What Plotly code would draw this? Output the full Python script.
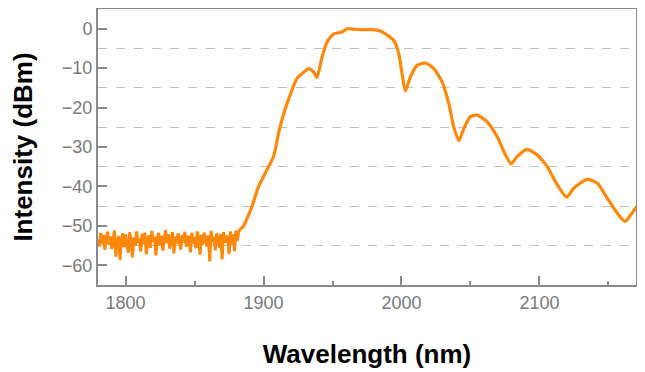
import plotly.graph_objects as go

# Noise floor region (nm, dBm)
noise_wl = list(range(1780, 1885))
noise_db = [-53.5,-55.2,-51.8,-54.6,-52.3,-56.1,-53.0,-51.5,-54.8,-52.7,
            -55.9,-53.4,-51.2,-57.8,-54.1,-52.6,-58.6,-53.8,-51.9,-55.4,
            -52.2,-54.9,-56.8,-51.6,-53.7,-58.0,-52.9,-55.1,-51.4,-54.3,
            -53.2,-56.5,-52.0,-54.7,-51.7,-57.2,-53.6,-52.4,-55.6,-51.3,
            -54.0,-52.8,-57.5,-53.1,-51.8,-55.0,-52.5,-56.3,-53.9,-51.1,
            -54.4,-52.1,-55.8,-53.3,-51.6,-57.0,-52.7,-54.6,-51.9,-53.8,
            -56.0,-52.3,-54.2,-51.5,-55.3,-53.0,-52.6,-56.7,-51.8,-54.5,
            -52.9,-55.7,-51.4,-53.5,-57.3,-52.2,-54.8,-51.7,-53.9,-55.2,
            -52.4,-59.0,-51.3,-54.1,-52.8,-56.2,-51.9,-53.6,-55.5,-52.0,
            -58.5,-51.6,-54.3,-52.5,-53.2,-57.1,-51.4,-54.7,-52.1,-56.4,
            -51.2,-53.8,-51.5,-50.9,-50.6]

# Spectrum above the noise floor
spec_wl = [1884, 1885.4, 1888.5, 1891.6, 1896.4, 1900, 1903.6, 1907.3, 1910.9, 1913.3,
           1917, 1920.6, 1924.2, 1927.8, 1932.7, 1936.3, 1938.7, 1942.4, 1946,
           1950.8, 1956.9, 1960.5, 1969, 1978.6, 1981, 1984.7, 1988.3, 1994.4,
           1998, 2000.4, 2002.8, 2006.5, 2011.3, 2017.4, 2023.4, 2029.5, 2034.3,
           2037.9, 2041.6, 2045.2, 2050, 2054.9, 2062.1, 2069.4, 2075.4, 2079.5,
           2083.9, 2091.1, 2098.4, 2105.6, 2112.9, 2119.7, 2125, 2134.7, 2142,
           2149.2, 2156.5, 2162, 2166.2, 2170.5]
spec_db = [-50.6, -50.1, -47.8, -45.1, -40.0, -37.5, -35.0, -32.4, -26.5, -23.2,
           -19.0, -15.6, -12.6, -11.4, -10.1, -11.0, -12.4, -7.2, -3.4,
           -1.3, -0.85, 0.0, -0.25, -0.25, -0.3, -0.6, -1.3, -3.0,
           -6.3, -11.4, -15.8, -12.2, -9.3, -8.7, -10.1, -13.5, -19.0,
           -24.9, -28.4, -25.3, -22.3, -21.9, -23.6, -27.4, -32.0, -34.3,
           -32.4, -30.6, -32.0, -35.0, -39.6, -42.7, -40.4, -38.2, -39.2,
           -43.0, -46.8, -48.9, -47.2, -45.1]

x_ticks = [1800, 1900, 2000, 2100]
y_ticks = [0, -10, -20, -30, -40, -50, -60]

orange = "rgb(255,135,10)"
grey = "#8a8a8a"

fig = go.Figure()
fig.add_trace(go.Scatter(x=noise_wl, y=noise_db, mode="lines",
                         line=dict(color=orange, width=3), showlegend=False))
fig.add_trace(go.Scatter(x=spec_wl, y=spec_db, mode="lines",
                         line=dict(color=orange, width=3.2, shape="spline", smoothing=0.6),
                         showlegend=False))

# page body has an 8px margin, so the figure is 8px smaller and margins shifted
fig.update_layout(
    width=637, height=364,
    margin=dict(l=90, r=9, t=1, b=87),
    plot_bgcolor="white", paper_bgcolor="white",
    font=dict(family="Liberation Sans, Arial, sans-serif"),
    xaxis=dict(
        range=[1780, 2170], tickvals=x_ticks, ticks="inside", ticklen=9, tickwidth=1.5,
        tickcolor=grey, showgrid=False, zeroline=False, automargin=False,
        showline=True, linecolor=grey, linewidth=2, mirror=True,
        tickfont=dict(size=18, color="#7a7a7a"),
        minor=dict(tick0=1850, dtick=100, ticks="inside", ticklen=4, tickcolor=grey, showgrid=False),
        title=dict(text="<b>Wavelength (nm)</b>", font=dict(size=26, color="black"), standoff=33),
    ),
    yaxis=dict(
        range=[-65, 5], tickvals=y_ticks, ticks="inside", ticklen=9, tickwidth=1.5,
        tickcolor=grey, showgrid=False, zeroline=False, automargin=False,
        showline=True, linecolor=grey, linewidth=2, mirror=True,
        tickfont=dict(size=18, color="#7a7a7a"),
        minor=dict(tick0=-5, dtick=10, ticks="", showgrid=True, gridcolor="#c0c0c0",
                   griddash="dash", gridwidth=1),
        title=dict(text="<b>Intensity (dBm)</b>", font=dict(size=26, color="black"), standoff=22),
    ),
)

fig.write_html("out.html")
